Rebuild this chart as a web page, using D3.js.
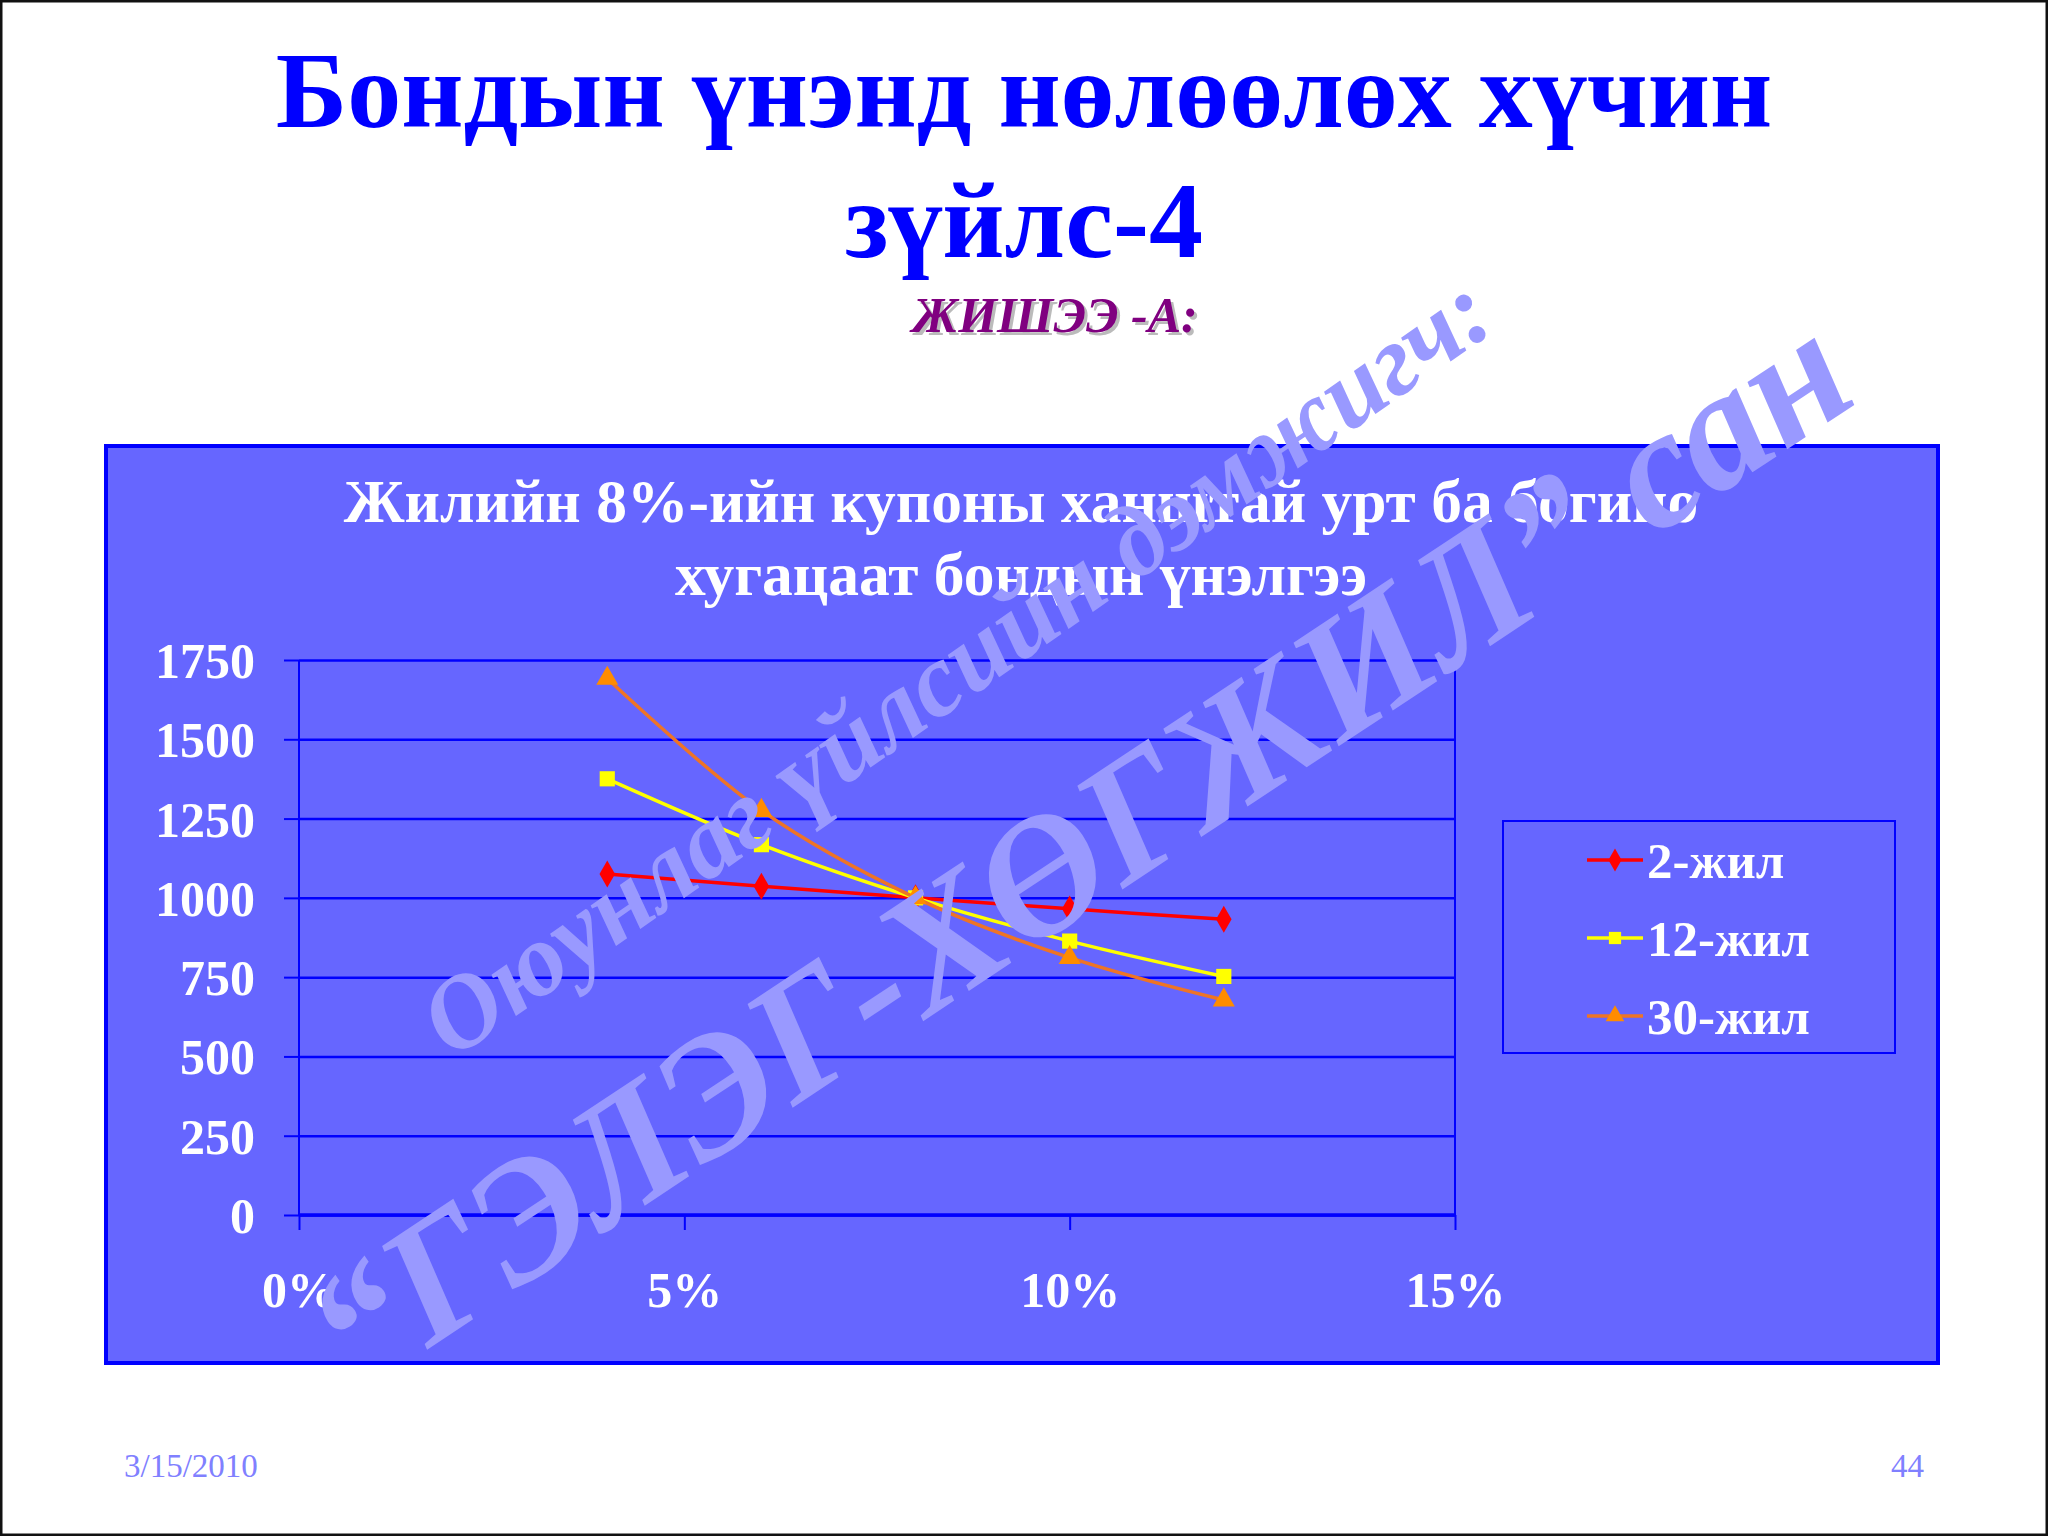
<!DOCTYPE html>
<html>
<head>
<meta charset="utf-8">
<script src="https://cdn.jsdelivr.net/npm/d3@7"></script>
<style>
  html, body { margin: 0; padding: 0; background: #ffffff; }
  svg { display: block; }
</style>
</head>
<body>
<svg id="chart" width="2048" height="1536"></svg>
<script>
// ---- data ----
const rates = [0.04, 0.06, 0.08, 0.10, 0.12];
const seriesNames = ["2-жил", "12-жил", "30-жил"];
const price2y  = [1075.4, 1036.7, 1000, 965.3, 932.4];
const price12y = [1375.4, 1167.7, 1000, 863.7, 752.2];
const price30y = [1691.7, 1275.3, 1000, 811.5, 677.8];
const yTicks = [0, 250, 500, 750, 1000, 1250, 1500, 1750];
const xTicks = [0, 0.05, 0.10, 0.15];
const xTickLabels = ["0%", "5%", "10%", "15%"];
const slideTitle = ["Бондын үнэнд нөлөөлөх хүчин", "зүйлс-4"];
const subTitle = "ЖИШЭЭ -А:";
const chartTitle = ["Жилийн 8%-ийн купоны ханштай урт ба богино", "хугацаат бондын үнэлгээ"];
const watermark1 = "Оюунлаг үйлсийн дэмжигч:";
const watermark2 = "“ГЭЛЭГ-ХӨГЖИЛ” сан";
const footerDate = "3/15/2010";
const footerPage = "44";

const seriesValues = [price2y, price12y, price30y];
const lineColors = ["#FF0000", "#FFFF00", "#EE7426"];
const markerColors = ["#FF0000", "#FFFF00", "#FF8C00"];
const markerTypes = [d3.symbolDiamond, d3.symbolSquare, d3.symbolTriangle];

const svg = d3.select("#chart");
const serif = "'Liberation Serif', 'Times New Roman', serif";

// slide frame
svg.append("rect").attr("x", 1).attr("y", 1).attr("width", 2046).attr("height", 1534)
  .attr("fill", "#ffffff").attr("stroke", "#111").attr("stroke-width", 3);

// slide title
svg.append("text").attr("x", 1024).attr("y", 127).attr("text-anchor", "middle")
  .attr("font-family", serif).attr("font-weight", "bold").attr("font-size", 108)
  .attr("fill", "#0000FF").text(slideTitle[0]);
svg.append("text").attr("x", 1024).attr("y", 257).attr("text-anchor", "middle")
  .attr("font-family", serif).attr("font-weight", "bold").attr("font-size", 108)
  .attr("fill", "#0000FF").text(slideTitle[1]);

// subtitle with shadow
svg.append("text").attr("x", 1058).attr("y", 335).attr("text-anchor", "middle")
  .attr("font-family", serif).attr("font-weight", "bold").attr("font-style", "italic")
  .attr("font-size", 50).attr("fill", "#BBBBBB").text(subTitle);
svg.append("text").attr("x", 1055).attr("y", 332).attr("text-anchor", "middle")
  .attr("font-family", serif).attr("font-weight", "bold").attr("font-style", "italic")
  .attr("font-size", 50).attr("fill", "#800080").text(subTitle);

// chart panel
svg.append("rect").attr("x", 106).attr("y", 446).attr("width", 1832).attr("height", 917)
  .attr("fill", "#6666FF").attr("stroke", "#0000FF").attr("stroke-width", 4);

// chart title
chartTitle.forEach((t, i) => {
  svg.append("text").attr("x", 1021).attr("y", 522 + i * 73).attr("text-anchor", "middle")
    .attr("font-family", serif).attr("font-weight", "bold").attr("font-size", 61.5)
    .attr("fill", "#FFFFFF").text(t);
});

// plot area
const plot = { left: 299, right: 1455, top: 660, bottom: 1215 };
const x = d3.scaleLinear().domain([0, 0.15]).range([plot.left, plot.right]);
const y = d3.scaleLinear().domain([0, 1750]).range([plot.bottom, plot.top]);

// gridlines + y axis
const yAxis = d3.axisLeft(y).tickValues(yTicks).tickSize(15).tickFormat(d => d);
const gy = svg.append("g").attr("transform", `translate(${plot.left},0)`).call(yAxis);
gy.select(".domain").remove();
gy.selectAll(".tick line").attr("stroke", "#0000FF").attr("stroke-width", 2);
gy.selectAll(".tick text").attr("x", -44).attr("dy", "0.35em")
  .attr("font-family", serif).attr("font-weight", "bold").attr("font-size", 50)
  .attr("fill", "#FFFFFF");

const grid = d3.axisLeft(y).tickValues(yTicks).tickSize(-(plot.right - plot.left)).tickFormat("");
const gg = svg.append("g").attr("transform", `translate(${plot.left},0)`).call(grid);
gg.select(".domain").remove();
gg.selectAll(".tick line").attr("stroke", "#0000FF").attr("stroke-width", 2.5);

// plot border
svg.append("line").attr("x1", plot.left).attr("x2", plot.left).attr("y1", plot.top).attr("y2", plot.bottom)
  .attr("stroke", "#0000FF").attr("stroke-width", 2);
svg.append("line").attr("x1", plot.right).attr("x2", plot.right).attr("y1", plot.top).attr("y2", plot.bottom)
  .attr("stroke", "#0000FF").attr("stroke-width", 2);

// x axis
const xAxis = d3.axisBottom(x).tickValues(xTicks).tickSize(15).tickFormat((d, i) => xTickLabels[i]);
const gx = svg.append("g").attr("transform", `translate(0,${plot.bottom})`).call(xAxis);
gx.select(".domain").attr("stroke", "#0000FF").attr("stroke-width", 3.5).attr("d", `M${plot.left},0H${plot.right}`);
gx.selectAll(".tick line").attr("stroke", "#0000FF").attr("stroke-width", 2);
gx.selectAll(".tick text").attr("y", 92).attr("dy", 0)
  .attr("font-family", serif).attr("font-weight", "bold").attr("font-size", 50)
  .attr("fill", "#FFFFFF");

// series
const line = d3.line().x((d, i) => x(rates[i])).y(d => y(d)).curve(d3.curveCatmullRom.alpha(0.5));
seriesValues.forEach((vals, s) => {
  svg.append("path").datum(vals).attr("d", line).attr("fill", "none")
    .attr("stroke", lineColors[s]).attr("stroke-width", 3.5);
  svg.append("g").selectAll("path").data(vals).join("path")
    .attr("transform", (d, i) => `translate(${x(rates[i])},${y(d)})`)
    .attr("d", d3.symbol().type(markerTypes[s]).size(s === 1 ? 230 : 210))
    .attr("fill", markerColors[s]);
});

// legend
const lg = { x: 1503, y: 821, w: 392, h: 232 };
svg.append("rect").attr("x", lg.x).attr("y", lg.y).attr("width", lg.w).attr("height", lg.h)
  .attr("fill", "none").attr("stroke", "#0000FF").attr("stroke-width", 2);
seriesNames.forEach((name, s) => {
  const cy = 860 + s * 78;
  svg.append("line").attr("x1", 1587).attr("x2", 1643).attr("y1", cy).attr("y2", cy)
    .attr("stroke", lineColors[s]).attr("stroke-width", 3.5);
  svg.append("path").attr("transform", `translate(1615,${cy})`)
    .attr("d", d3.symbol().type(markerTypes[s]).size(150)).attr("fill", markerColors[s]);
  svg.append("text").attr("x", 1647).attr("y", cy).attr("dy", "0.35em")
    .attr("font-family", serif).attr("font-weight", "bold").attr("font-size", 51)
    .attr("fill", "#FFFFFF").text(name);
});

// watermarks
svg.append("text").attr("transform", "translate(955,664) rotate(-35)")
  .attr("text-anchor", "middle").attr("dy", "0.35em")
  .attr("font-family", serif).attr("font-weight", "bold").attr("font-style", "italic")
  .attr("font-size", 104).attr("fill", "#9999FF").text(watermark1);
svg.append("text").attr("transform", "translate(1077,848) rotate(-33.5)")
  .attr("text-anchor", "middle").attr("dy", "0.35em")
  .attr("font-family", serif).attr("font-weight", "bold").attr("font-style", "italic")
  .attr("font-size", 170).attr("fill", "#9999FF").text(watermark2);

// footer
svg.append("text").attr("x", 124).attr("y", 1477)
  .attr("font-family", serif).attr("font-size", 33).attr("fill", "#8080FF").text(footerDate);
svg.append("text").attr("x", 1924).attr("y", 1477).attr("text-anchor", "end")
  .attr("font-family", serif).attr("font-size", 33).attr("fill", "#8080FF").text(footerPage);
</script>
</body>
</html>
